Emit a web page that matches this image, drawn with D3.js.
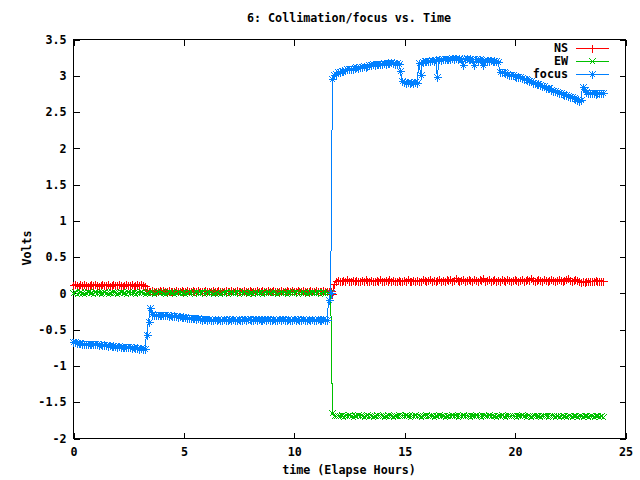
<!DOCTYPE html>
<html><head><meta charset="utf-8">
<script src="https://cdn.jsdelivr.net/npm/d3@7"></script>
<style>
body{margin:0;background:#fff;}
text{font-family:"DejaVu Sans Mono",monospace;font-weight:bold;font-size:11.7px;fill:#000;}
</style></head>
<body><svg id="c" width="640" height="480"></svg>
<script>
const title = "6: Collimation/focus vs. Time";
const xLabel = "time (Elapse Hours)";
const yLabel = "Volts";
const seriesNames = ["NS", "EW", "focus"];
const seriesColors = ["#ff0000", "#00c000", "#0080ff"];
const xTicks = [0, 5, 10, 15, 20, 25];
const yTicks = [-2, -1.5, -1, -0.5, 0, 0.5, 1, 1.5, 2, 2.5, 3, 3.5];

const hours = [
 0,0.08,0.17,0.25,0.33,0.42,0.5,0.58,0.67,0.75,0.83,0.92,
 1,1.08,1.17,1.25,1.33,1.42,1.5,1.58,1.67,1.75,1.83,1.92,
 2,2.08,2.17,2.25,2.33,2.42,2.5,2.58,2.67,2.75,2.83,2.92,
 3,3.08,3.17,3.25,3.33,3.42,3.5,3.58,3.67,3.75,3.83,3.92,
 4,4.08,4.17,4.25,4.33,4.42,4.5,4.58,4.67,4.75,4.83,4.92,
 5,5.08,5.17,5.25,5.33,5.42,5.5,5.58,5.67,5.75,5.83,5.92,
 6,6.08,6.17,6.25,6.33,6.42,6.5,6.58,6.67,6.75,6.83,6.92,
 7,7.08,7.17,7.25,7.33,7.42,7.5,7.58,7.67,7.75,7.83,7.92,
 8,8.08,8.17,8.25,8.33,8.42,8.5,8.58,8.67,8.75,8.83,8.92,
 9,9.08,9.17,9.25,9.33,9.42,9.5,9.58,9.67,9.75,9.83,9.92,
 10,10.08,10.17,10.25,10.33,10.42,10.5,10.58,10.67,10.75,10.83,10.92,
 11,11.08,11.17,11.25,11.33,11.42,11.5,11.58,11.67,11.75,11.83,11.92,
 12,12.08,12.17,12.25,12.33,12.42,12.5,12.58,12.67,12.75,12.83,12.92,
 13,13.08,13.17,13.25,13.33,13.42,13.5,13.58,13.67,13.75,13.83,13.92,
 14,14.08,14.17,14.25,14.33,14.42,14.5,14.58,14.67,14.75,14.83,14.92,
 15,15.08,15.17,15.25,15.33,15.42,15.5,15.58,15.67,15.75,15.83,15.92,
 16,16.08,16.17,16.25,16.33,16.42,16.5,16.58,16.67,16.75,16.83,16.92,
 17,17.08,17.17,17.25,17.33,17.42,17.5,17.58,17.67,17.75,17.83,17.92,
 18,18.08,18.17,18.25,18.33,18.42,18.5,18.58,18.67,18.75,18.83,18.92,
 19,19.08,19.17,19.25,19.33,19.42,19.5,19.58,19.67,19.75,19.83,19.92,
 20,20.08,20.17,20.25,20.33,20.42,20.5,20.58,20.67,20.75,20.83,20.92,
 21,21.08,21.17,21.25,21.33,21.42,21.5,21.58,21.67,21.75,21.83,21.92,
 22,22.08,22.17,22.25,22.33,22.42,22.5,22.58,22.67,22.75,22.83,22.92,
 23,23.08,23.17,23.25,23.33,23.42,23.5,23.58,23.67,23.75,23.83,23.92,
 24
];

const ns = [
 0.11,0.12,0.11,0.10,0.12,0.11,0.12,0.11,0.10,0.11,0.12,0.11,
 0.12,0.11,0.10,0.11,0.12,0.11,0.11,0.12,0.10,0.11,0.12,0.11,
 0.11,0.12,0.11,0.10,0.11,0.12,0.11,0.11,0.12,0.10,0.11,0.12,
 0.11,0.12,0.11,0.10,0.04,0.03,0.03,0.04,0.03,0.02,0.03,0.04,
 0.03,0.04,0.02,0.03,0.04,0.03,0.03,0.02,0.04,0.03,0.03,0.04,
 0.03,0.02,0.04,0.03,0.03,0.04,0.02,0.03,0.04,0.03,0.02,0.03,
 0.04,0.03,0.03,0.02,0.04,0.03,0.03,0.04,0.02,0.03,0.03,0.04,
 0.03,0.02,0.04,0.03,0.03,0.04,0.03,0.02,0.03,0.04,0.03,0.03,
 0.04,0.03,0.02,0.03,0.04,0.03,0.03,0.04,0.02,0.03,0.04,0.03,
 0.03,0.04,0.03,0.02,0.03,0.04,0.03,0.03,0.04,0.02,0.03,0.04,
 0.03,0.03,0.04,0.02,0.03,0.04,0.03,0.03,0.02,0.04,0.03,0.03,
 0.04,0.03,0.02,0.03,0.04,0.03,0.03,0.02,0.02,-0.01,0.12,0.17,
 0.18,0.17,0.16,0.18,0.17,0.19,0.17,0.16,0.18,0.17,0.18,0.16,
 0.17,0.18,0.17,0.19,0.16,0.17,0.18,0.17,0.16,0.18,0.17,0.19,
 0.17,0.16,0.18,0.17,0.19,0.17,0.18,0.16,0.17,0.18,0.17,0.16,
 0.18,0.17,0.19,0.17,0.16,0.18,0.17,0.18,0.16,0.17,0.19,0.18,
 0.17,0.18,0.19,0.17,0.18,0.16,0.18,0.19,0.17,0.18,0.17,0.19,
 0.18,0.19,0.17,0.18,0.20,0.18,0.17,0.18,0.19,0.17,0.18,0.19,
 0.18,0.17,0.19,0.18,0.17,0.19,0.18,0.20,0.17,0.18,0.19,0.17,
 0.18,0.19,0.17,0.18,0.17,0.19,0.18,0.17,0.19,0.18,0.17,0.18,
 0.19,0.18,0.17,0.18,0.19,0.17,0.18,0.19,0.18,0.20,0.18,0.17,
 0.18,0.19,0.18,0.17,0.19,0.18,0.17,0.18,0.19,0.18,0.17,0.18,
 0.19,0.18,0.17,0.18,0.19,0.20,0.18,0.17,0.18,0.19,0.18,0.17,
 0.15,0.16,0.15,0.17,0.16,0.17,0.16,0.17,0.18,0.17,0.16,0.17,
 0.17
];

const ew = [
 0.00,0.01,-0.01,0.00,0.01,0.00,-0.01,0.00,0.01,0.00,0.00,-0.01,
 0.01,0.00,0.00,-0.01,0.00,0.01,0.00,-0.01,0.00,0.01,0.00,0.00,
 -0.01,0.00,0.01,0.00,0.00,-0.01,0.01,0.00,0.00,0.01,-0.01,0.00,
 0.00,0.01,0.00,-0.01,0.00,0.01,0.00,0.00,-0.01,0.00,0.01,0.00,
 0.01,0.00,-0.01,0.00,0.01,0.00,0.00,-0.01,0.00,0.01,0.00,0.00,
 0.00,-0.01,0.00,0.01,0.00,0.00,-0.01,0.01,0.00,0.00,0.01,-0.01,
 0.00,0.01,0.00,0.00,-0.01,0.00,0.01,0.00,-0.01,0.00,0.00,0.01,
 -0.01,0.00,0.01,0.00,0.00,0.01,-0.01,0.00,0.00,0.01,0.00,-0.01,
 0.00,0.00,-0.01,0.01,0.00,0.00,0.01,-0.01,0.00,0.00,0.01,0.00,
 0.01,0.00,0.00,-0.01,0.00,0.01,0.00,0.00,-0.01,0.01,0.00,0.00,
 0.00,0.01,-0.01,0.00,0.00,0.01,0.00,-0.01,0.00,0.00,0.01,0.00,
 0.00,0.01,-0.01,0.00,0.01,0.00,0.00,0.00,0.00,-1.65,-1.69,-1.70,
 -1.69,-1.70,-1.68,-1.71,-1.69,-1.70,-1.68,-1.69,-1.71,-1.70,-1.69,-1.68,
 -1.70,-1.69,-1.71,-1.69,-1.68,-1.70,-1.69,-1.71,-1.70,-1.68,-1.69,-1.70,
 -1.69,-1.71,-1.70,-1.68,-1.69,-1.70,-1.71,-1.69,-1.70,-1.68,-1.70,-1.69,
 -1.70,-1.68,-1.69,-1.71,-1.70,-1.69,-1.68,-1.70,-1.69,-1.71,-1.70,-1.69,
 -1.68,-1.70,-1.69,-1.70,-1.71,-1.69,-1.70,-1.68,-1.69,-1.70,-1.71,-1.69,
 -1.70,-1.69,-1.68,-1.70,-1.69,-1.71,-1.70,-1.69,-1.68,-1.70,-1.69,-1.70,
 -1.71,-1.69,-1.70,-1.68,-1.70,-1.69,-1.71,-1.70,-1.69,-1.70,-1.68,-1.70,
 -1.69,-1.70,-1.71,-1.69,-1.70,-1.68,-1.70,-1.71,-1.69,-1.70,-1.70,-1.69,
 -1.70,-1.71,-1.69,-1.70,-1.68,-1.70,-1.71,-1.69,-1.70,-1.71,-1.70,-1.69,
 -1.70,-1.69,-1.71,-1.70,-1.70,-1.69,-1.71,-1.70,-1.69,-1.70,-1.71,-1.70,
 -1.71,-1.70,-1.69,-1.70,-1.71,-1.70,-1.69,-1.71,-1.70,-1.70,-1.71,-1.69,
 -1.70,-1.71,-1.70,-1.69,-1.71,-1.70,-1.70,-1.71,-1.69,-1.70,-1.71,-1.70,
 -1.71
];

const focus = [
 -0.68,-0.68,-0.69,-0.69,-0.69,-0.70,-0.70,-0.70,-0.70,-0.71,-0.70,-0.71,
 -0.71,-0.71,-0.72,-0.71,-0.72,-0.72,-0.72,-0.73,-0.72,-0.73,-0.73,-0.73,
 -0.74,-0.73,-0.74,-0.74,-0.75,-0.74,-0.75,-0.75,-0.76,-0.75,-0.76,-0.76,
 -0.77,-0.76,-0.77,-0.77,-0.58,-0.40,-0.21,-0.29,-0.30,-0.30,-0.31,-0.30,
 -0.30,-0.31,-0.31,-0.31,-0.32,-0.31,-0.32,-0.32,-0.32,-0.33,-0.32,-0.33,
 -0.33,-0.33,-0.34,-0.34,-0.34,-0.35,-0.35,-0.36,-0.35,-0.36,-0.37,-0.36,
 -0.36,-0.37,-0.36,-0.37,-0.37,-0.36,-0.37,-0.36,-0.37,-0.37,-0.36,-0.37,
 -0.37,-0.36,-0.37,-0.36,-0.37,-0.37,-0.36,-0.37,-0.37,-0.36,-0.37,-0.36,
 -0.36,-0.37,-0.37,-0.36,-0.37,-0.36,-0.37,-0.37,-0.36,-0.37,-0.36,-0.37,
 -0.37,-0.36,-0.37,-0.37,-0.36,-0.37,-0.36,-0.37,-0.37,-0.36,-0.37,-0.37,
 -0.36,-0.37,-0.36,-0.37,-0.37,-0.36,-0.37,-0.37,-0.36,-0.37,-0.36,-0.37,
 -0.37,-0.36,-0.37,-0.37,-0.36,-0.37,-0.37,-0.10,0.00,2.95,3.00,3.02,
 3.04,3.05,3.06,3.06,3.07,3.08,3.08,3.09,3.09,3.10,3.11,3.10,
 3.12,3.12,3.13,3.12,3.13,3.14,3.14,3.15,3.14,3.15,3.16,3.15,
 3.16,3.17,3.16,3.17,3.17,3.18,3.17,3.16,3.17,3.16,3.06,2.92,
 2.91,2.90,2.91,2.90,2.91,2.90,2.91,2.90,3.17,3.00,3.18,3.19,
 3.19,3.20,3.20,3.21,3.20,3.21,2.98,3.22,3.21,3.22,3.23,3.22,
 3.23,3.23,3.24,3.23,3.24,3.23,3.24,3.23,3.14,3.23,3.24,3.23,
 3.22,3.23,3.14,3.22,3.21,3.22,3.21,3.14,3.20,3.21,3.20,3.21,
 3.20,3.19,3.20,3.18,3.05,3.04,3.04,3.03,3.02,3.01,3.01,3.00,
 2.99,2.98,2.98,2.97,2.96,2.95,2.95,2.93,2.92,2.92,2.90,2.89,
 2.88,2.88,2.86,2.85,2.85,2.83,2.82,2.82,2.80,2.79,2.79,2.77,
 2.76,2.76,2.74,2.73,2.73,2.71,2.70,2.70,2.68,2.67,2.66,2.65,
 2.66,2.84,2.80,2.77,2.76,2.75,2.76,2.75,2.74,2.75,2.76,2.75,
 2.75
];

const seriesValues = [ns, ew, focus];

const svg = d3.select("#c");
const L = 73, R = 625, T = 39, B = 438;
const x = d3.scaleLinear().domain([0, 25]).range([L, R]);
const y = d3.scaleLinear().domain([-2, 3.5]).range([B, T]);

// axes (gnuplot-like inward ticks, mirrored)
const fmt = d => String(d);
const gB = svg.append("g").attr("transform", `translate(0.5,${B + 0.5})`)
  .call(d3.axisBottom(x).tickValues(xTicks).tickSize(-6).tickPadding(9).tickFormat(fmt));
const gT = svg.append("g").attr("transform", `translate(0.5,${T + 0.5})`)
  .call(d3.axisTop(x).tickValues(xTicks).tickSize(-6).tickFormat(""));
const gL = svg.append("g").attr("transform", `translate(${L + 0.5},0.5)`)
  .call(d3.axisLeft(y).tickValues(yTicks).tickSize(-6).tickPadding(7).tickFormat(fmt));
const gR = svg.append("g").attr("transform", `translate(${R + 0.5},0.5)`)
  .call(d3.axisRight(y).tickValues(yTicks).tickSize(-6).tickFormat(""));
[gB, gT, gL, gR].forEach(g => {
  g.select(".domain").remove();
  g.selectAll("line").attr("stroke", "#000").attr("shape-rendering", "crispEdges");
  g.selectAll("text").attr("font-family", null).attr("font-size", null).style("fill", "#000");
});
svg.append("rect").attr("x", L + 0.5).attr("y", T + 0.5).attr("width", R - L).attr("height", B - T)
  .attr("fill", "none").attr("stroke", "#000").attr("shape-rendering", "crispEdges");

// markers
const markerPaths = [
  "M-4,0H4M0,-4V4",
  "M-3,-3L3,3M-3,3L3,-3",
  "M-4,0H4M0,-4V4M-3,-3L3,3M-3,3L3,-3"
];

const line = d3.line().x(d => x(d[0])).y(d => y(d[1]));
seriesValues.forEach((vals, i) => {
  const pts = hours.map((h, k) => [h, vals[k]]);
  const g = svg.append("g");
  g.append("path").datum(pts).attr("d", line).attr("fill", "none")
    .attr("stroke", seriesColors[i]).attr("stroke-width", 1).attr("shape-rendering", "crispEdges");
  g.selectAll("path.m").data(pts).enter().append("path").attr("class", "m")
    .attr("transform", d => `translate(${Math.round(x(d[0])) + 0.5},${Math.round(y(d[1])) + 0.5})`)
    .attr("d", markerPaths[i]).attr("fill", "none").attr("stroke", seriesColors[i])
    .attr("stroke-width", 1).attr("shape-rendering", "crispEdges");
});

// legend
seriesNames.forEach((name, i) => {
  const ly = 48 + i * 13;
  svg.append("text").attr("x", 568).attr("y", ly).attr("dy", "0.35em")
    .attr("text-anchor", "end").text(name);
  svg.append("line").attr("x1", 576).attr("x2", 609).attr("y1", ly + 0.5).attr("y2", ly + 0.5)
    .attr("stroke", seriesColors[i]).attr("shape-rendering", "crispEdges");
  svg.append("path").attr("transform", `translate(592.5,${ly + 0.5})`).attr("d", markerPaths[i])
    .attr("fill", "none").attr("stroke", seriesColors[i]).attr("shape-rendering", "crispEdges");
});

// titles
svg.append("text").attr("x", 349).attr("y", 18).attr("dy", "0.35em").attr("text-anchor", "middle").text(title);
svg.append("text").attr("x", 349).attr("y", 470).attr("dy", "0.35em").attr("text-anchor", "middle").text(xLabel);
svg.append("text").attr("transform", "translate(27,248) rotate(-90)").attr("dy", "0.35em")
  .attr("text-anchor", "middle").text(yLabel);
</script></body></html>
